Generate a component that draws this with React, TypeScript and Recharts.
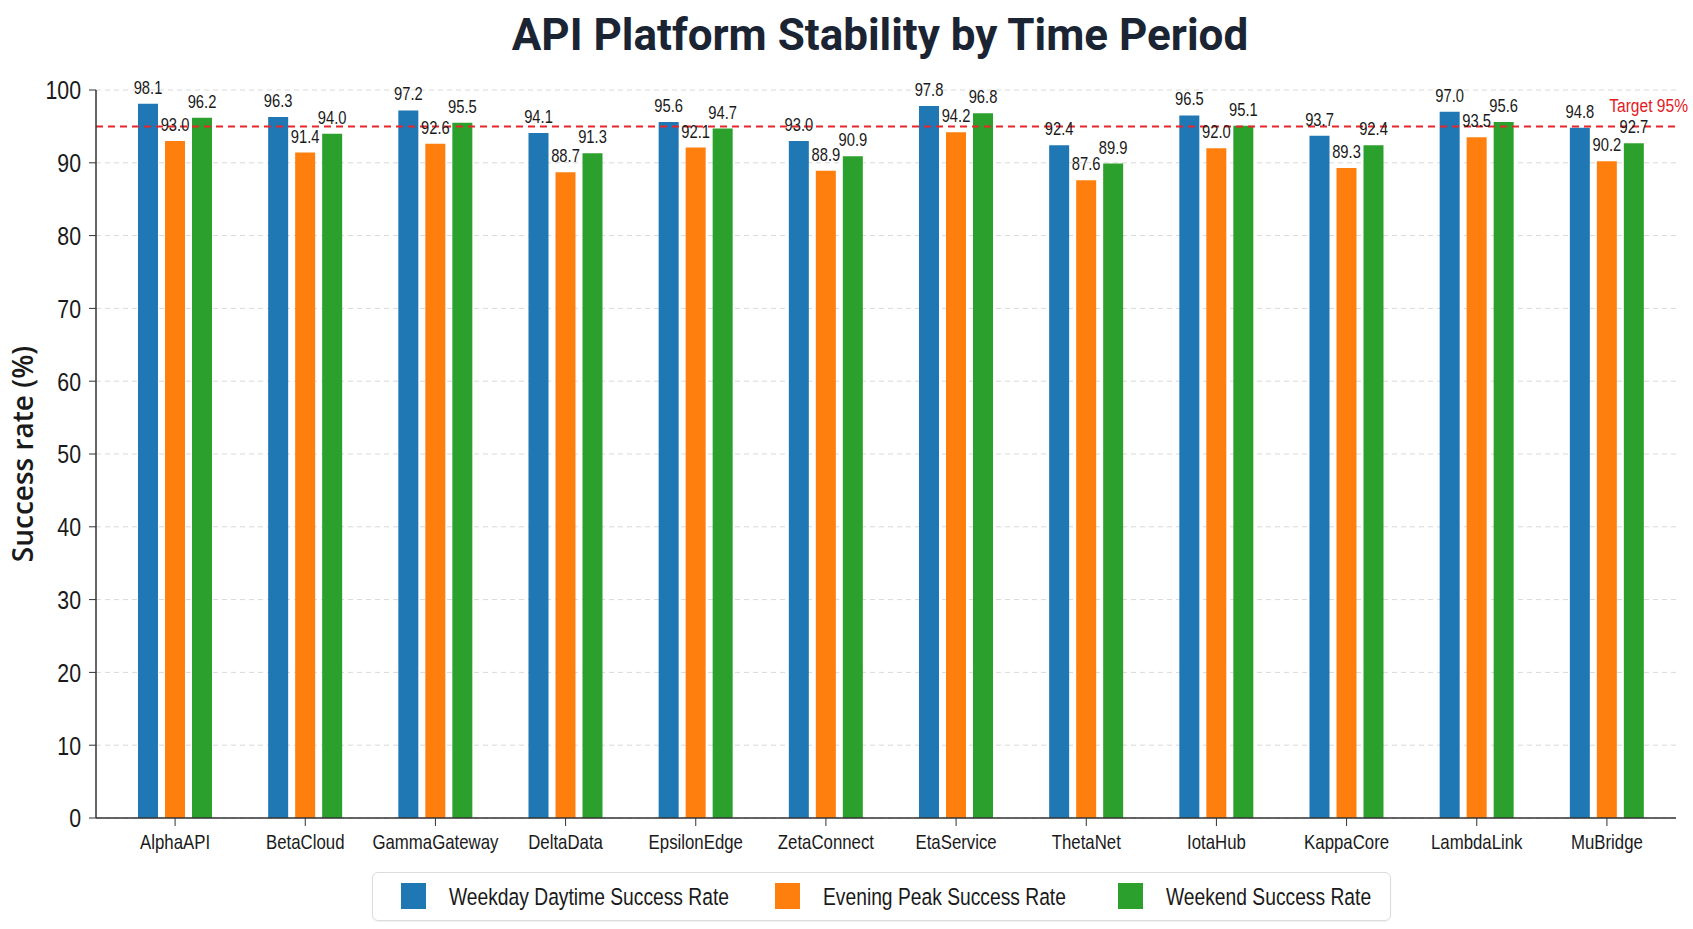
import React from 'react';
import {
  BarChart,
  Bar,
  XAxis,
  YAxis,
  CartesianGrid,
  Legend,
  LabelList,
  ReferenceLine,
} from 'recharts';

const categories = [
  'AlphaAPI', 'BetaCloud', 'GammaGateway', 'DeltaData', 'EpsilonEdge', 'ZetaConnect',
  'EtaService', 'ThetaNet', 'IotaHub', 'KappaCore', 'LambdaLink', 'MuBridge',
];
const weekday = [98.1, 96.3, 97.2, 94.1, 95.6, 93.0, 97.8, 92.4, 96.5, 93.7, 97.0, 94.8];
const evening = [93.0, 91.4, 92.6, 88.7, 92.1, 88.9, 94.2, 87.6, 92.0, 89.3, 93.5, 90.2];
const weekend = [96.2, 94.0, 95.5, 91.3, 94.7, 90.9, 96.8, 89.9, 95.1, 92.4, 95.6, 92.7];
const seriesKeys = ['weekday', 'evening', 'weekend'];
const seriesNames = ['Weekday Daytime Success Rate', 'Evening Peak Success Rate', 'Weekend Success Rate'];
const seriesColors = ['#1f77b4', '#ff7f0e', '#2ca02c'];
const yTicks = [0, 10, 20, 30, 40, 50, 60, 70, 80, 90, 100];
const target = 95;

const data = categories.map((name, i) => ({
  name,
  weekday: weekday[i],
  evening: evening[i],
  weekend: weekend[i],
}));

// no condensed font installed, so squeeze Liberation Sans horizontally
const FONT = '"Liberation Sans", Arial, sans-serif';
const SQUEEZE = 0.82;

const NarrowText = ({ x, y, size, anchor = 'middle', dy = 0, fill = '#1a1a1a', children }: any) => (
  <text
    transform={`translate(${x} ${y}) scale(${SQUEEZE} 1)`}
    x={0}
    y={0}
    dy={dy}
    textAnchor={anchor}
    fontSize={size}
    fontFamily={FONT}
    fill={fill}
  >
    {children}
  </text>
);

const XTick = (props: any) => (
  <NarrowText x={props.x} y={props.y} size={20.5} dy="0.71em">
    {props.payload.value}
  </NarrowText>
);

const YTick = (props: any) => (
  <NarrowText x={props.x} y={props.y} size={26} anchor="end" dy="0.36em">
    {props.payload.value}
  </NarrowText>
);

const ValueLabel = (props: any) => {
  const { x, y, width, value } = props;
  return (
    <NarrowText x={x + width / 2} y={y - 10} size={18}>
      {Number(value).toFixed(1)}
    </NarrowText>
  );
};

// legend in a rounded box, like the original
const legendItemX = [28, 402, 745];

const LegendBox = () => (
  <div style={{ display: 'flex', justifyContent: 'center', paddingLeft: 87 }}>
    <div
      style={{
        width: 1019,
        height: 49,
        boxSizing: 'border-box',
        border: '1px solid #dcdcdc',
        borderRadius: 6,
        boxShadow: '0 1px 2px rgba(0,0,0,0.06)',
      }}
    >
      <svg width={1017} height={47} style={{ display: 'block' }}>
        {seriesNames.map((name, i) => (
          <g key={name}>
            <rect x={legendItemX[i]} y={10} width={25} height={26} fill={seriesColors[i]} />
            <NarrowText x={legendItemX[i] + 48} y={23.5} size={23.5} anchor="start" dy="0.36em">
              {name}
            </NarrowText>
          </g>
        ))}
      </svg>
    </div>
  </div>
);

const TargetLabel = (props: any) => {
  const vb = props.viewBox || {};
  return (
    <NarrowText x={vb.x + vb.width + 12} y={vb.y - 14} size={19} anchor="end" fill="#e41a1c">
      Target 95%
    </NarrowText>
  );
};

export default function App() {
  return (
    <div style={{ position: 'absolute', left: 0, top: 0, width: 1693, height: 929, background: '#fff' }}>
      <div
        style={{
          position: 'absolute',
          left: 380,
          width: 1000,
          top: 13,
          textAlign: 'center',
          fontFamily: 'Roboto, sans-serif',
          fontWeight: 700,
          fontSize: 44,
          lineHeight: '44px',
          color: '#1b2433',
        }}
      >
        API Platform Stability by Time Period
      </div>
      <BarChart
        width={1693}
        height={929}
        data={data}
        margin={{ top: 90, right: 17, bottom: 8, left: 0 }}
        barCategoryGap="21%"
        barGap={7}
      >
        <CartesianGrid vertical={false} stroke="#d9d9d9" strokeDasharray="5 4" />
        <XAxis
          dataKey="name"
          height={54}
          padding={{ left: 14, right: 4 }}
          tickSize={8}
          tickMargin={8}
          interval={0}
          axisLine={{ stroke: '#333', strokeWidth: 1.5 }}
          tickLine={{ stroke: '#333' }}
          tick={<XTick />}
        />
        <YAxis
          width={96}
          domain={[0, 100]}
          ticks={yTicks}
          tickSize={7}
          tickMargin={8}
          axisLine={{ stroke: '#333', strokeWidth: 1.5 }}
          tickLine={{ stroke: '#333' }}
          tick={<YTick />}
          label={{
            value: 'Success rate (%)',
            angle: -90,
            position: 'insideLeft',
            offset: 23,
            style: { textAnchor: 'middle', fontSize: 28, fontWeight: 600, fontFamily: '"Open Sans", sans-serif', fill: '#1a1a1a' },
          }}
        />
        <Legend verticalAlign="bottom" content={<LegendBox />} />
        <ReferenceLine
          y={target}
          stroke="#e8262a"
          strokeWidth={2}
          strokeDasharray="7 5"
          label={<TargetLabel />}
        />
        {seriesKeys.map((key, i) => (
          <Bar key={key} dataKey={key} name={seriesNames[i]} fill={seriesColors[i]} barSize={20} isAnimationActive={false}>
            <LabelList dataKey={key} content={<ValueLabel />} />
          </Bar>
        ))}
      </BarChart>
    </div>
  );
}
